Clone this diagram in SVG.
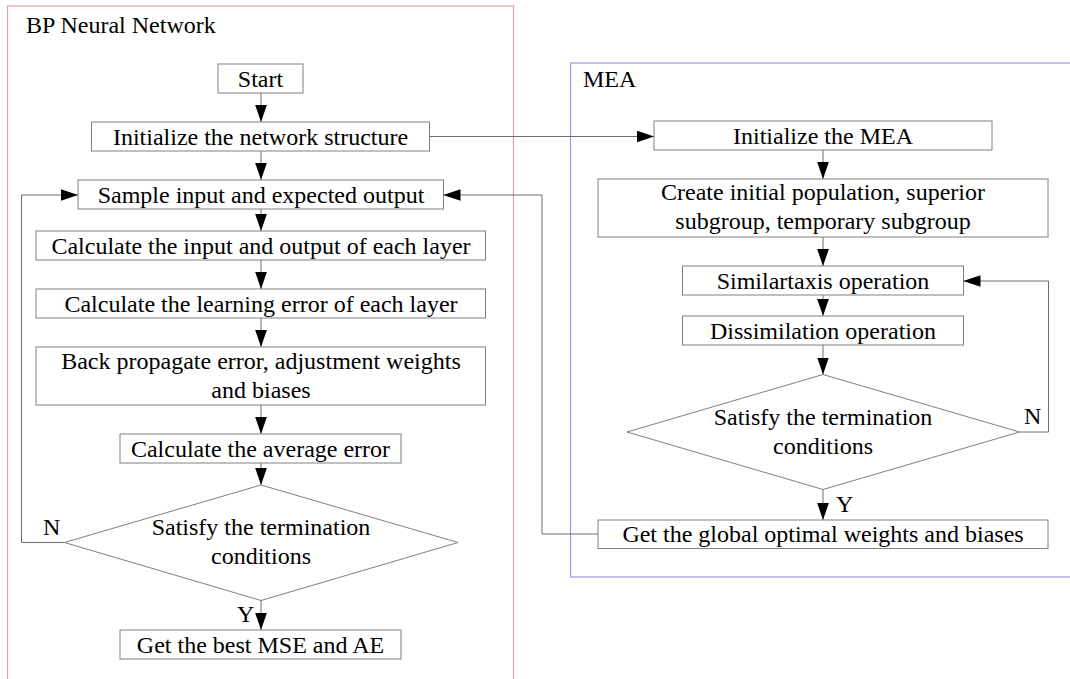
<svg xmlns="http://www.w3.org/2000/svg" width="1070" height="679" viewBox="0 0 1070 679">
<style>
.frame-bp{fill:none;stroke:#e3a0a4;stroke-width:1.2}
.frame-mea{fill:none;stroke:#9a98e0;stroke-width:1.2}
.box{fill:#fff;stroke:#808080;stroke-width:1}
.t{font-size:24px;fill:#000;text-anchor:middle}
.l{font-size:24px;fill:#000}
.c{fill:none;stroke:#6e6e6e;stroke-width:1}
.ca{fill:none;stroke:#6e6e6e;stroke-width:1;marker-end:url(#ah)}
</style>
<defs>
<marker id="ah" markerUnits="userSpaceOnUse" markerWidth="17" markerHeight="12" viewBox="0 0 16 11" refX="16" refY="5.5" orient="auto">
<path d="M0,0 L16,5.5 L0,11 Z" fill="#000"/>
</marker>
</defs>
<rect width="1070" height="679" fill="#fff"/>
<g font-family="Liberation Serif, Times New Roman, DejaVu Serif, serif">
<g id="frame-bp">
<rect class="frame-bp" x="7.5" y="6" width="506" height="700"/>
<text class="l" x="26" y="33">BP Neural Network</text>
</g>
<g id="frame-mea">
<rect class="frame-mea" x="570.5" y="63" width="520" height="514"/>
<text class="l" x="583" y="87">MEA</text>
</g>
<g id="connectors">
<line class="ca" x1="261" y1="93" x2="261" y2="122"/>
<line class="ca" x1="261" y1="151" x2="261" y2="180"/>
<line class="ca" x1="261" y1="209" x2="261" y2="231"/>
<line class="ca" x1="261" y1="260" x2="261" y2="289"/>
<line class="ca" x1="261" y1="318" x2="261" y2="347"/>
<line class="ca" x1="261" y1="405" x2="261" y2="434"/>
<line class="ca" x1="261" y1="463" x2="261" y2="485"/>
<line class="ca" x1="261" y1="600.5" x2="261" y2="630"/>
<polyline class="ca" points="64.5,542.5 21.5,542.5 21.5,195 78,195"/>
<line class="ca" x1="429" y1="136.5" x2="654" y2="136.5"/>
<line class="ca" x1="823" y1="150" x2="823" y2="179"/>
<line class="ca" x1="823" y1="237" x2="823" y2="266"/>
<line class="ca" x1="823" y1="295" x2="823" y2="316"/>
<line class="ca" x1="823" y1="345" x2="823" y2="374.5"/>
<line class="ca" x1="823" y1="489.5" x2="823" y2="520"/>
<polyline class="ca" points="1019.5,432 1048.5,432 1048.5,281 963.5,281"/>
<polyline class="ca" points="598,534 542,534 542,195 443.5,195"/>
<text class="l" x="43" y="535">N</text>
<text class="l" x="237" y="622">Y</text>
<text class="l" x="1024" y="424">N</text>
<text class="l" x="836" y="512">Y</text>
</g>
<g id="start">
<rect class="box" x="218" y="64" width="85" height="29"/>
<text class="t" x="260.5" y="86.5">Start</text>
</g>
<g id="init-network">
<rect class="box" x="91.5" y="122" width="338" height="29"/>
<text class="t" x="260.5" y="144.5">Initialize the network structure</text>
</g>
<g id="sample">
<rect class="box" x="78" y="180" width="365.5" height="29"/>
<text class="t" x="261" y="202.5">Sample input and expected output</text>
</g>
<g id="calc-io">
<rect class="box" x="36" y="231" width="449.5" height="29"/>
<text class="t" x="261" y="253.5">Calculate the input and output of each layer</text>
</g>
<g id="calc-learning">
<rect class="box" x="36" y="289" width="449.5" height="29"/>
<text class="t" x="261" y="311.5">Calculate the learning error of each layer</text>
</g>
<g id="back-prop">
<rect class="box" x="36" y="347" width="449.5" height="58"/>
<text class="t" x="261" y="368.5">Back propagate error, adjustment weights</text>
<text class="t" x="261" y="397.5">and biases</text>
</g>
<g id="calc-avg">
<rect class="box" x="120" y="434" width="281" height="29"/>
<text class="t" x="260.5" y="456.5">Calculate the average error</text>
</g>
<g id="bp-decision">
<polygon class="box" points="261,485 458,542.5 261,600.5 64.5,542.5"/>
<text class="t" x="261" y="535">Satisfy the termination</text>
<text class="t" x="261" y="563.5">conditions</text>
</g>
<g id="best-mse">
<rect class="box" x="120" y="630" width="281" height="29"/>
<text class="t" x="260.5" y="652.5">Get the best MSE and AE</text>
</g>
<g id="init-mea">
<rect class="box" x="654" y="121" width="338" height="29"/>
<text class="t" x="823" y="143.5">Initialize the MEA</text>
</g>
<g id="create-pop">
<rect class="box" x="598" y="179" width="450" height="58"/>
<text class="t" x="823" y="200">Create initial population, superior</text>
<text class="t" x="823" y="229">subgroup, temporary subgroup</text>
</g>
<g id="similartaxis">
<rect class="box" x="682.5" y="266" width="281" height="29"/>
<text class="t" x="823" y="288.5">Similartaxis operation</text>
</g>
<g id="dissimilation">
<rect class="box" x="682.5" y="316" width="281" height="29"/>
<text class="t" x="823" y="338.5">Dissimilation operation</text>
</g>
<g id="mea-decision">
<polygon class="box" points="823,374.5 1019.5,432 823,489.5 627,432"/>
<text class="t" x="823" y="424.5">Satisfy the termination</text>
<text class="t" x="823" y="453.5">conditions</text>
</g>
<g id="global-opt">
<rect class="box" x="598" y="520" width="450" height="28.5"/>
<text class="t" x="823" y="542">Get the global optimal weights and biases</text>
</g>
</g>
</svg>
